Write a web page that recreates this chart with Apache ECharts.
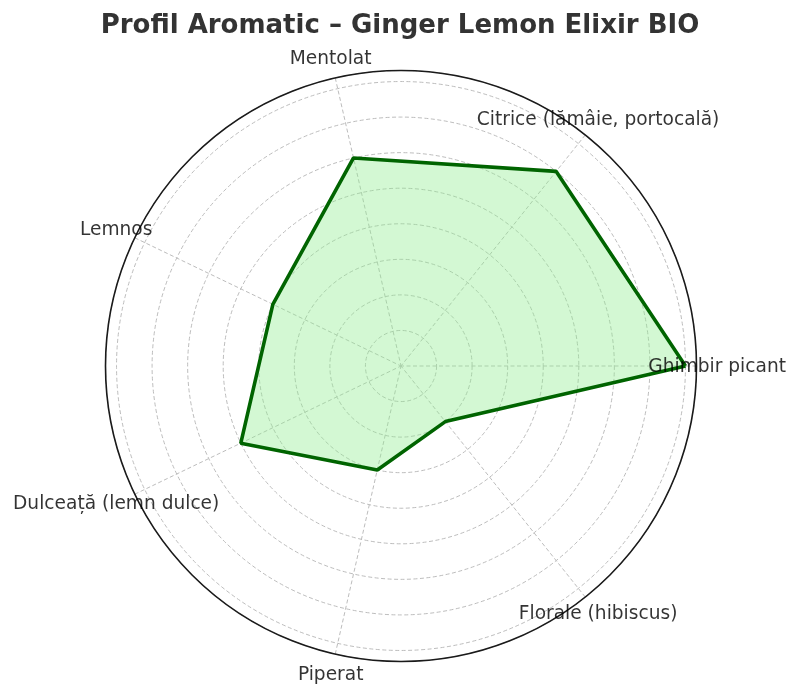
<!DOCTYPE html>
<html><head><meta charset="utf-8">
<script src="https://cdn.jsdelivr.net/npm/echarts@6/dist/echarts.min.js"></script>
<style>html,body{margin:0;padding:0;background:#fff}#c{width:800px;height:697px}</style>
</head><body><div id="c"></div>
<script>
const categories = ['Ghimbir picant', 'Citrice (lămâie, portocală)', 'Mentolat', 'Lemnos', 'Dulceață (lemn dulce)', 'Piperat', 'Florale (hibiscus)'];
const values = [8, 7, 6, 4, 5, 3, 2];
const titleText = 'Profil Aromatic – Ginger Lemon Elixir BIO';

const RMAX = 8.31;
const LABEL_R = 8.89;
const step = 360 / categories.length;
const lineData = values.map((v, i) => [v, i * step]);
lineData.push([values[0], 360]);
const labelData = categories.map((c, i) => ({ name: c, value: [LABEL_R, i * step] }));

const chart = echarts.init(document.getElementById('c'), null, { renderer: 'canvas' });
chart.setOption({
  animation: false,
  backgroundColor: '#ffffff',
  title: {
    text: titleText, left: 'center', top: 8,
    textStyle: { fontFamily: 'DejaVu Sans', fontSize: 26, fontWeight: 'bold', color: '#333333' }
  },
  polar: { center: [401, 366], radius: 295.5 },
  angleAxis: {
    type: 'value', min: 0, max: 360, interval: step, startAngle: 0, clockwise: false,
    axisLine: { show: true, lineStyle: { color: '#1a1a1a', width: 1.6 } },
    axisTick: { show: false },
    axisLabel: { show: false },
    splitLine: { show: true, lineStyle: { color: '#bdbdbd', width: 1, type: [4, 2.5] } }
  },
  radiusAxis: {
    type: 'value', min: 0, max: RMAX, interval: 1,
    axisLine: { show: false }, axisTick: { show: false }, axisLabel: { show: false },
    splitLine: { show: true, lineStyle: { color: '#bdbdbd', width: 1, type: [4, 2.5] } }
  },
  series: [
    {
      type: 'line', coordinateSystem: 'polar', data: lineData, symbol: 'none',
      lineStyle: { color: '#006400', width: 3.6 },
      areaStyle: { color: '#90ee90', opacity: 0.4 },
      z: 2
    },
    {
      type: 'scatter', coordinateSystem: 'polar', data: labelData, clip: false,
      symbolSize: 1, itemStyle: { color: 'rgba(0,0,0,0)' }, silent: true,
      label: {
        show: true, position: 'inside', formatter: '{b}',
        fontFamily: 'DejaVu Sans', fontSize: 18.6, color: '#000000', offset: [0, 1]
      },
      z: 3
    }
  ]
});
</script>
</body></html>
